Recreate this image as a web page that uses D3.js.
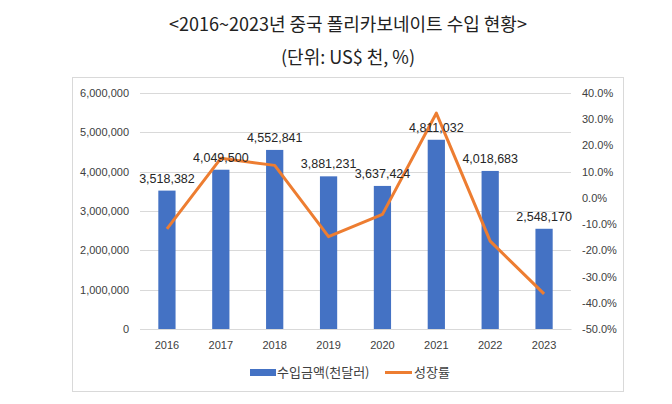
<!DOCTYPE html>
<html><head><meta charset="utf-8">
<script src="https://cdn.jsdelivr.net/npm/d3@7"></script>
<style>body{margin:0;background:#fff}svg{display:block}</style>
</head><body>
<svg id="c" width="672" height="404"></svg>
<script>
const years = ["2016","2017","2018","2019","2020","2021","2022","2023"];
const imports = [3518382,4049500,4552841,3881231,3637424,4811032,4018683,2548170];
const growth = [-11.8,15.1,12.4,-14.8,-6.3,32.3,-16.5,-36.6];
const leftTicks = [0,1000000,2000000,3000000,4000000,5000000,6000000];
const rightTicks = [-50,-40,-30,-20,-10,0,10,20,30,40];
const titleLines = ["<2016~2023년 중국 폴리카보네이트 수입 현황>","(단위: US$ 천, %)"];
const legendLabels = ["수입금액(천달러)","성장률"];

const svg = d3.select("#c");
const font = "'Noto Sans CJK KR','Noto Sans',sans-serif";
const axisFont = "'Liberation Sans','Noto Sans',sans-serif";
const L = 140, R = 571, T = 93, B = 329;

// frame
svg.append("rect").attr("x",72.5).attr("y",77.5).attr("width",551).attr("height",314)
  .attr("fill","none").attr("stroke","#d9d9d9");

// titles
svg.selectAll("text.title").data(titleLines).join("text")
  .attr("x",348).attr("y",(d,i)=>31+i*33).attr("text-anchor","middle")
  .attr("font-family",font).attr("font-size",18).attr("fill","#222")
  .text(d=>d);

const x = d3.scaleBand().domain(years).range([L,R]).paddingInner(0.68).paddingOuter(0.34);
const y = d3.scaleLinear().domain([0,6000000]).range([B,T]);
const y2 = d3.scaleLinear().domain([-50,40]).range([B,T]);

// gridlines
svg.append("g").selectAll("line").data(leftTicks).join("line")
  .attr("x1",L).attr("x2",R).attr("y1",d=>Math.round(y(d))+0.5).attr("y2",d=>Math.round(y(d))+0.5)
  .attr("stroke","#d9d9d9").attr("stroke-width",1);

// left axis
const la = svg.append("g").attr("transform",`translate(${L},0)`)
  .call(d3.axisLeft(y).tickValues(leftTicks).tickFormat(d3.format(",")).tickSize(0).tickPadding(11));
la.select(".domain").remove();
la.selectAll("text").attr("font-family",axisFont).attr("font-size",11).attr("fill","#404040");

// right axis
const ra = svg.append("g").attr("transform",`translate(${R},0)`)
  .call(d3.axisRight(y2).tickValues(rightTicks).tickFormat(d=>d.toFixed(1)+"%").tickSize(0).tickPadding(11));
ra.select(".domain").remove();
ra.selectAll("text").attr("font-family",axisFont).attr("font-size",11).attr("fill","#404040");

// bars
svg.append("g").selectAll("rect").data(years).join("rect")
  .attr("x",d=>x(d)).attr("width",x.bandwidth())
  .attr("y",(d,i)=>y(imports[i])).attr("height",(d,i)=>B-y(imports[i]))
  .attr("fill","#4472c4");

// bottom axis
const ba = svg.append("g").attr("transform",`translate(0,${B})`)
  .call(d3.axisBottom(x).tickSize(0).tickPadding(12));
ba.select(".domain").attr("stroke","#d9d9d9");
ba.selectAll("text").attr("font-family",axisFont).attr("font-size",11).attr("fill","#404040");

// line
const line = d3.line().x((d,i)=>x(years[i])+x.bandwidth()/2).y(d=>y2(d));
svg.append("path").datum(growth).attr("d",line).attr("fill","none")
  .attr("stroke","#ed7d31").attr("stroke-width",3).attr("stroke-linejoin","round");

// data labels
svg.append("g").selectAll("text").data(years).join("text")
  .attr("x",d=>x(d)+x.bandwidth()/2).attr("y",(d,i)=>y(imports[i])-8)
  .attr("text-anchor","middle").attr("font-family",axisFont).attr("font-size",12.5).attr("fill","#262626")
  .text((d,i)=>d3.format(",")(imports[i]));

// legend
const lg = svg.append("g");
lg.append("rect").attr("x",250).attr("y",369).attr("width",26).attr("height",7).attr("fill","#4472c4");
lg.append("text").attr("x",277).attr("y",377).attr("font-family",font).attr("font-size",13).attr("fill","#404040").text(legendLabels[0]);
lg.append("line").attr("x1",385).attr("x2",412).attr("y1",372.5).attr("y2",372.5).attr("stroke","#ed7d31").attr("stroke-width",3);
lg.append("text").attr("x",414).attr("y",377).attr("font-family",font).attr("font-size",13).attr("fill","#404040").text(legendLabels[1]);
</script>
</body></html>
